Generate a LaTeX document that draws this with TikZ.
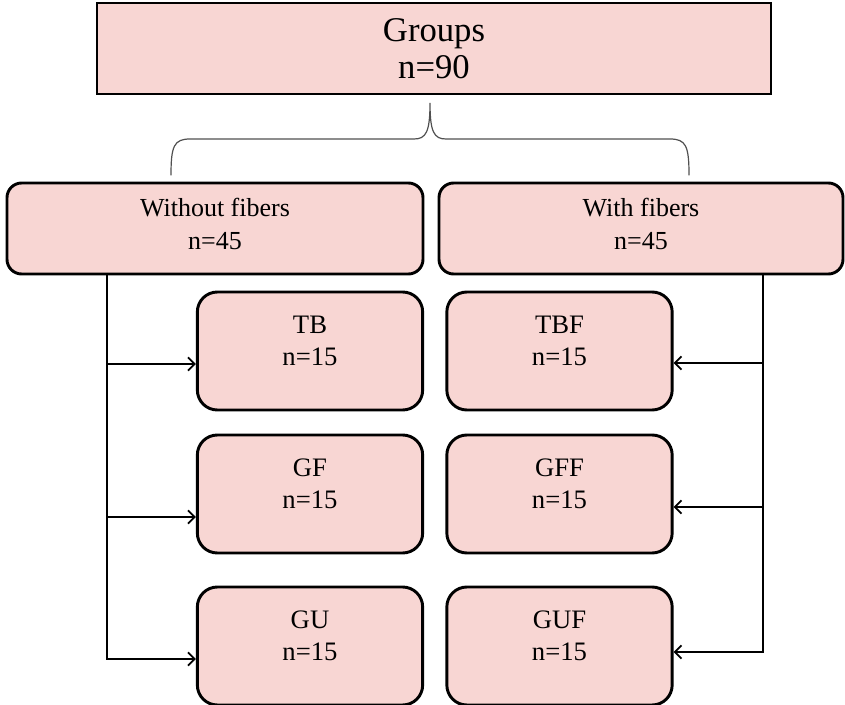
\documentclass[tikz,border=0pt]{standalone}
\usepackage{fontspec}
\setmainfont{Liberation Serif}
\usepackage{xcolor}
\usepackage{tikz}
\usetikzlibrary{calc,arrows.meta}
\definecolor{boxfill}{HTML}{F8D6D3}
\definecolor{bracegray}{HTML}{505050}
\definecolor{ink}{HTML}{000000}
\tikzset{
  topbox/.style={draw=ink, fill=boxfill, line width=2.2pt, align=center,
    inner sep=0pt, font=\fontsize{26}{28}\selectfont},
  armbox/.style={draw=ink, fill=boxfill, line width=2.2pt, rounded corners=11pt,
    align=center, inner sep=0pt, text depth=7pt, font=\fontsize{19.5}{24.5}\selectfont},
  subbox/.style={draw=ink, fill=boxfill, line width=2.2pt, rounded corners=15pt,
    align=center, inner sep=0pt, minimum width=169pt, minimum height=88.5pt,
    text depth=15pt, font=\fontsize{20}{24}\selectfont},
  conn/.style={draw=ink, line width=1.5pt, line join=miter},
  arr/.style={conn, -{Straight Barb[length=5pt,width=10pt,line width=1.3pt]}},
  brace/.style={draw=bracegray, line width=0.9pt, line cap=round},
}

\begin{document}
\begin{tikzpicture}[x=0.75pt,y=-0.75pt]
  \useasboundingbox (0,0) rectangle (845,705);

  % top group
  \node[topbox, minimum width=505.5pt, minimum height=68.25pt] (groups) at (434,48.5)
    {Groups\\n=90};

  % curly brace under the top box
  \draw[brace] (171,175) .. controls (171,146) and (174,139) .. (190,139)
    -- (414,139) .. controls (426,139) and (430,132) .. (430,103)
    .. controls (430,132) and (434,139) .. (446,139)
    -- (670,139) .. controls (686,139) and (689,146) .. (689,175);

  % the two arms
  \node[armbox, minimum width=312pt, minimum height=68.25pt] (without) at (215,228.5)
    {Without fibers\\n=45};
  \node[armbox, minimum width=303pt, minimum height=68.25pt] (with) at (641,228.5)
    {With fibers\\n=45};

  % sub groups without fibers
  \node[subbox] (tb) at (310,351) {TB\\n=15};
  \node[subbox] (gf) at (310,494) {GF\\n=15};
  \node[subbox] (gu) at (310,646) {GU\\n=15};

  % sub groups with fibers
  \node[subbox] (tbf) at (559.5,351) {TBF\\n=15};
  \node[subbox] (gff) at (559.5,494) {GFF\\n=15};
  \node[subbox] (guf) at (559.5,646) {GUF\\n=15};

  % left trunk
  \coordinate (lt) at (107,273);
  \coordinate (l1) at (107,364);
  \coordinate (l2) at (107,517);
  \coordinate (l3) at (107,659);
  \draw[arr] (lt) -- (l3) -- (l3 -| gu.west);
  \draw[arr] (l1) -- (l1 -| tb.west);
  \draw[arr] (l2) -- (l2 -| gf.west);

  % right trunk
  \coordinate (rt) at (763,273);
  \coordinate (r1) at (763,363);
  \coordinate (r2) at (763,507);
  \coordinate (r3) at (763,652);
  \draw[arr] (rt) -- (r3) -- (r3 -| guf.east);
  \draw[arr] (r1) -- (r1 -| tbf.east);
  \draw[arr] (r2) -- (r2 -| gff.east);
\end{tikzpicture}
\end{document}
